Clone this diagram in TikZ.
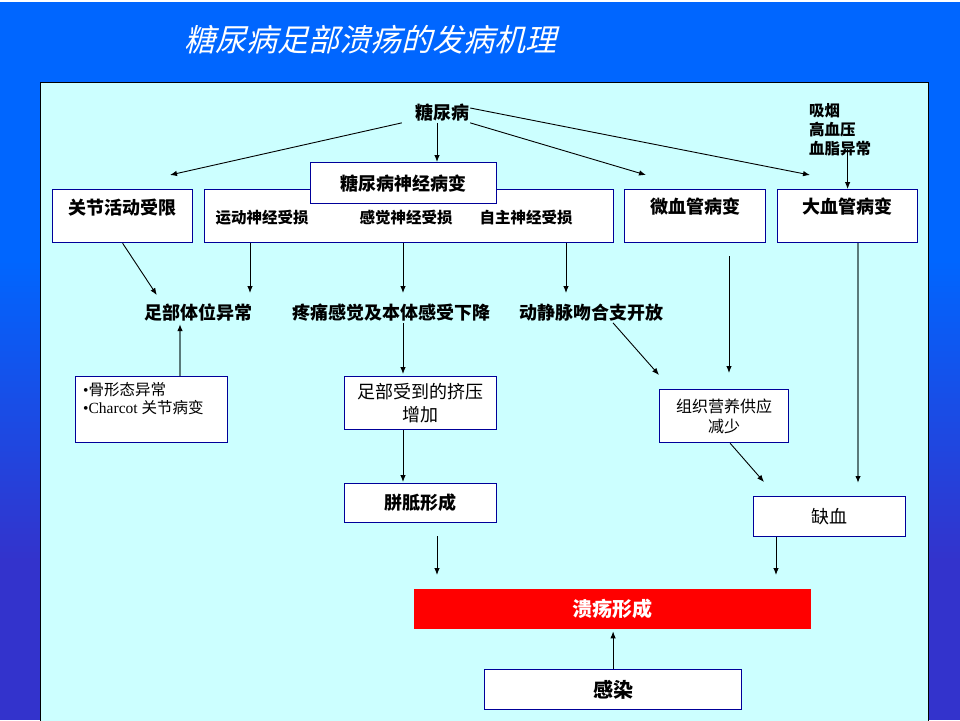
\documentclass[tikz,border=0pt]{standalone}
\usepackage{fontspec}
\setmainfont{Liberation Serif}
\newfontfamily\cjk{Noto Sans CJK SC}
\newfontfamily\cjktitle[FakeSlant=0.25]{Noto Sans CJK SC}
\usetikzlibrary{arrows.meta,positioning,calc}
\definecolor{bgTop}{RGB}{0,102,255}
\definecolor{bgBot}{RGB}{51,51,204}
\definecolor{panelC}{RGB}{204,255,255}
\definecolor{boxLine}{RGB}{0,0,153}
\definecolor{ulcerC}{RGB}{255,0,0}
\definecolor{greyLine}{RGB}{90,122,122}
\tikzset{
    line/.style   = {-{Latex[length=7pt,width=5.5pt]}, line width=0.9pt, draw=black},
    gline/.style  = {-{Latex[length=7pt,width=5.5pt,black]}, line width=1.6pt, draw=greyLine},
    box/.style    = {draw=boxLine, line width=1.2pt, fill=white, inner sep=0pt,
            anchor=north west},
    head/.style   = {font=\cjk\bfseries\fontsize{18}{22}\selectfont, inner sep=1pt},
    big/.style    = {font=\cjk\bfseries\fontsize{20}{24}\selectfont, inner sep=1pt},
    sub/.style    = {font=\cjk\bfseries\fontsize{15.5}{19}\selectfont, inner sep=1pt},
    plain/.style  = {font=\cjk\fontsize{18}{23}\selectfont, align=center, inner sep=1pt},
    small/.style  = {font=\cjk\fontsize{16}{20}\selectfont, align=center, inner sep=1pt},
}

\begin{document}
\begin{tikzpicture}[x=1pt, y=-1pt]
    \useasboundingbox (0,0) rectangle (960,720);
    % background and panel
    \fill[bgTop] (0,0) rectangle (960,260);
    \shade[top color=bgTop, bottom color=bgBot] (0,259.5) rectangle (960,560);
    \fill[bgBot] (0,559.5) rectangle (960,720);
    \fill[white] (0,0) rectangle (960,2);
    \draw[line width=1pt, fill=panelC] (40,82) rectangle (928,730);

    \node[font=\cjktitle\fontsize{31}{31}\selectfont, text=white] (title) at (370,40)
        {糖尿病足部溃疡的发病机理};

    % top level
    \node[head] (dm) at (442,113) {糖尿病};
    \node[sub, align=left, anchor=north west] (risk) at (808,102) {吸烟\\高血压\\血脂异常};

    \node[box, minimum width=140pt, minimum height=53pt] (joint) at (52,189) {};
    \node[head] (jointT) at ($(joint.north)+(0,19)$) {关节活动受限};
    \node[box, minimum width=409pt, minimum height=53pt] (nbig) at (204,189) {};
    \node[sub] (motor) at (262,218) {运动神经受损};
    \node[sub] (sense) at (406,218) {感觉神经受损};
    \node[sub] (auto) at (526,218) {自主神经受损};
    \node[box, head, minimum width=186pt, minimum height=41pt] (neuro) at (310,162) {糖尿病神经病变};
    \node[box, minimum width=141pt, minimum height=53pt] (micro) at (624,189) {};
    \node[head] (microT) at ($(micro.north)+(0,18)$) {微血管病变};
    \node[box, minimum width=140pt, minimum height=53pt] (macro) at (777,189) {};
    \node[head] (macroT) at ($(macro.north)+(0,18)$) {大血管病变};

    % second level
    \node[head] (footpos) at (198,313) {足部体位异常};
    \node[head] (pain) at (391,313) {疼痛感觉及本体感受下降};
    \node[head] (av) at (591,313) {动静脉吻合支开放};

    % third level
    \node[box, minimum width=152pt, minimum height=66pt] (bone) at (75,376) {};
    \node[align=left, anchor=north west, inner sep=0pt, font=\fontsize{15.5}{18.5}\selectfont]
        (boneT) at (83,382) {\textbullet{\cjk 骨形态异常}\\\textbullet Charcot {\cjk 关节病变}};
    \node[box, plain, minimum width=152pt, minimum height=53pt] (press) at (344,376)
        {足部受到的挤压\\增加};
    \node[box, small, minimum width=129pt, minimum height=53pt] (tissue) at (659,389)
        {组织营养供应\\减少};
    \node[box, head, minimum width=152pt, minimum height=39pt] (callus) at (344,483) {胼胝形成};
    \node[box, plain, minimum width=152pt, minimum height=40pt] (isch) at (753,496) {缺血};

    % bottom
    \node[big, fill=ulcerC, text=white, anchor=north west, minimum width=397pt,
        minimum height=40pt] (ulcer) at (414,589) {溃疡形成};
    \node[box, big, minimum width=257pt, minimum height=40pt] (infect) at (484,669) {感染};

    % arrow tips
    \coordinate (jointIn) at (170,175);
    \coordinate (microIn) at (646,175);
    \coordinate (macroIn) at (810,175);
    \coordinate (motorIn) at (250,293);
    \coordinate (painIn) at (403,293);
    \coordinate (avIn) at (566,293);
    \coordinate (footUp) at (180,324);
    \coordinate (tisIn) at (729,373);
    \coordinate (tisL) at (659,375);
    \coordinate (ischIn) at (858,483);
    \coordinate (ischL) at (764,482);
    \coordinate (ulcL) at (437,575);
    \coordinate (ulcR) at (776,575);

    % connectors
    \draw[line] ([xshift=-12pt]dm.south west) -- (jointIn);
    \draw[line] ([xshift=-5pt]dm.south) -- ([xshift=-5pt]dm.south |- neuro.north);
    \draw[line] (dm.south east) -- (microIn);
    \draw[line] ([yshift=5pt]dm.east) -- (macroIn);
    \draw[line] ([yshift=8pt]risk.south -| macro.north) -- (macro.north);

    \draw[line] (joint.south) -- ([xshift=14pt,yshift=8pt]footpos.north west);
    \draw[line] (nbig.south -| motorIn) -- (motorIn);
    \draw[line] (nbig.south -| painIn) -- (painIn);
    \draw[line] (nbig.south -| avIn) -- (avIn);
    \draw[line] ([yshift=-13pt]micro.south -| tisIn) -- (tisIn);
    \draw[gline] (macro.south -| ischIn) -- (ischIn);

    \draw[gline] (bone.north -| footUp) -- (footUp);
    \draw[line, shorten >=2pt] (pain.south -| painIn) -- (press.north -| painIn);
    \draw[line, shorten >=1pt] (press.south -| painIn) -- (callus.north -| painIn);
    \draw[line] ([xshift=22pt]av.south) -- (tisL);
    \draw[line] ([xshift=6pt]tissue.south) -- (ischL);

    \draw[line] ([yshift=-13pt]callus.south -| ulcL) -- (ulcL);
    \draw[line] (isch.south -| ulcR) -- (ulcR);
    \draw[line, shorten >=2pt] (infect.north) -- (infect.north |- ulcer.south);
\end{tikzpicture}
\end{document}
